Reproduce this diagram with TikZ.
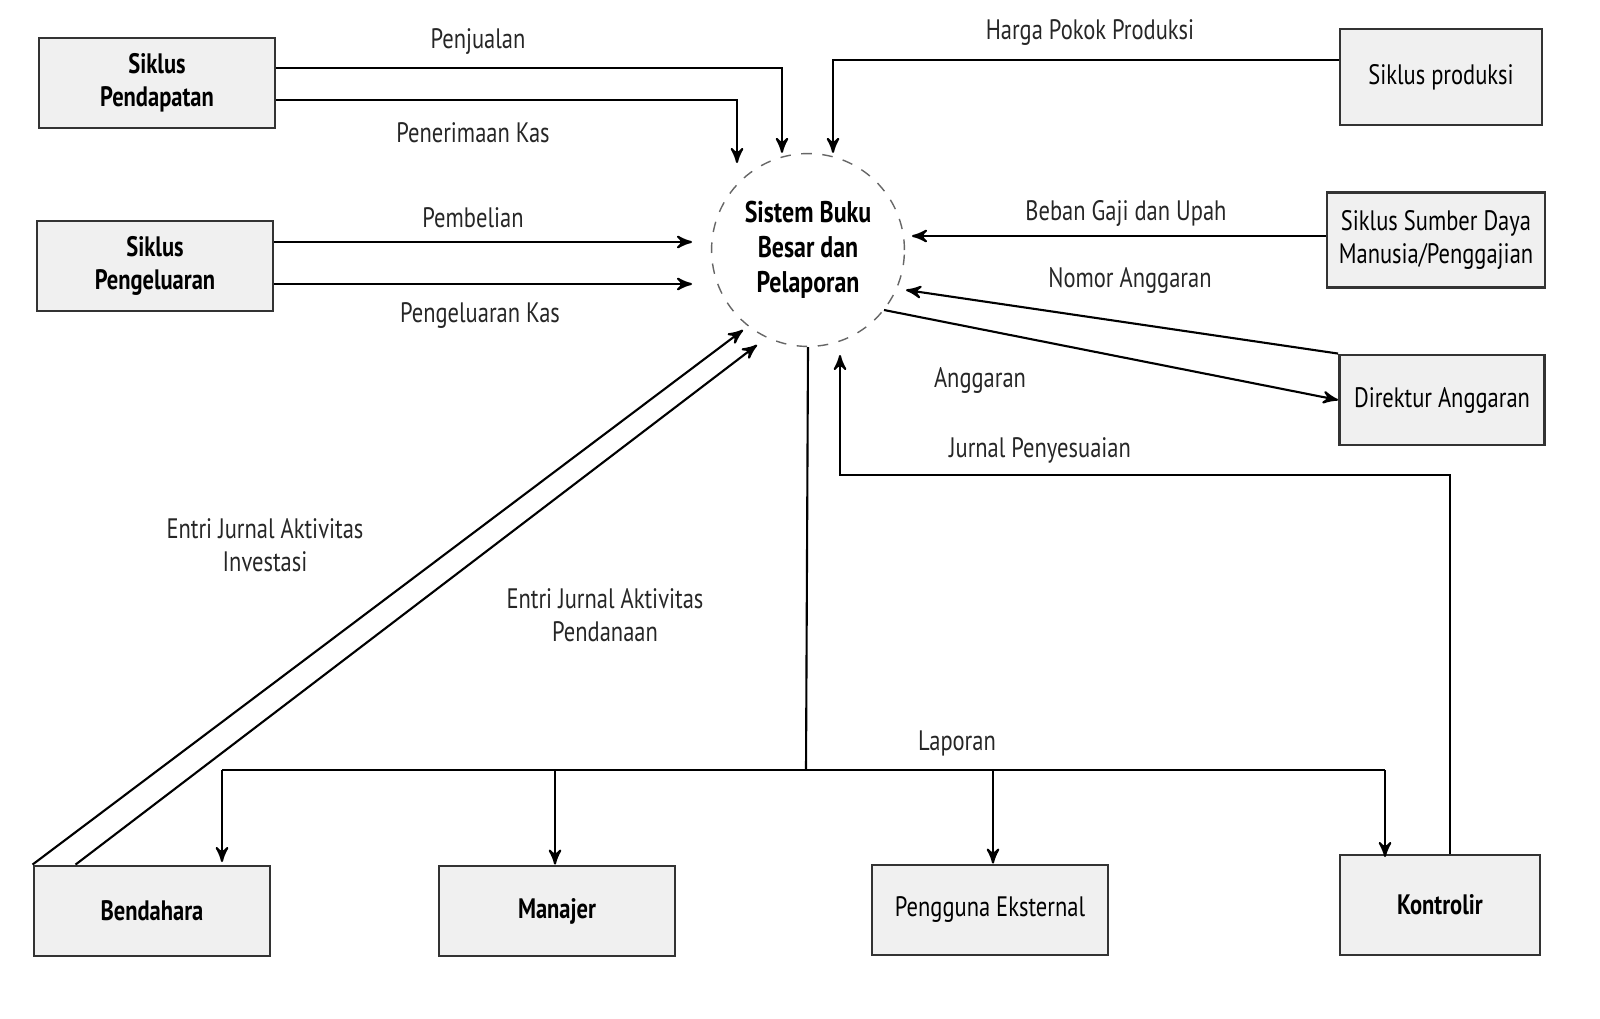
\documentclass[tikz,border=0pt]{standalone}
\usepackage{fontspec}
\setmainfont{PT Sans}[FakeStretch=0.8]
\usetikzlibrary{arrows,calc}
\begin{document}
\begin{tikzpicture}[->, >=stealth', semithick, x=0.01cm, y=-0.01cm, font=\fontsize{8}{9.5}\selectfont]
    \tikzstyle{ent}=[draw=black!80,fill=gray!12,thick,align=center,font=\fontsize{8}{9.5}\selectfont\bfseries,minimum width=2.36cm,minimum height=0.9cm]
    \tikzstyle{lbl}=[align=center,text=black!85]
    \useasboundingbox (0,0) rectangle (1600,1018);
    \node[draw=black!60,dashed,thin,circle,minimum size=1.9cm,align=center,font=\fontsize{8.5}{10}\selectfont\bfseries] (gl) at (808,250) {Sistem Buku\\Besar dan\\Pelaporan};
    \node[ent] (pend) at (157,83)   {Siklus\\Pendapatan};
    \node[ent] (peng) at (155,266)  {Siklus\\Pengeluaran};
    \node[ent,minimum width=2.02cm,minimum height=0.96cm,font=\fontsize{8}{9.5}\selectfont] (prod) at (1441,77) {Siklus produksi};
    \node[ent,minimum width=2.18cm,minimum height=0.95cm,font=\fontsize{8}{9.5}\selectfont] (sdm) at (1436,240) {Siklus Sumber Daya\\Manusia/Penggajian};
    \node[ent,minimum width=2.05cm,font=\fontsize{8}{9.5}\selectfont] (dir) at (1442,400) {Direktur Anggaran};
    \node[ent] (bend) at (152,911)  {Bendahara};
    \node[ent] (man) at (557,911)   {Manajer};
    \node[ent,font=\fontsize{8}{9.5}\selectfont] (ext) at (990,910) {Pengguna Eksternal};
    \node[ent,minimum width=2cm,minimum height=1cm] (kon) at (1440,905) {Kontrolir};
    % arus masuk
    \draw (pend.east |- 0,68) -| ([xshift=-0.26cm]gl.north);
    \draw (pend.east |- 0,100) -| (737,163);
    \draw (prod.west |- 0,60) -| ([xshift=0.25cm]gl.north);
    \draw (peng.east |- 0,242) -- (692,242);
    \draw (peng.east |- 0,284) -- (692,284);
    \draw (sdm.west |- 0,236) -- (912,236);
    \draw (dir.north west) -- (906,290);
    \draw (884,310) -- (dir.west);
    \draw (kon.north -| 1450,0) |- (840,475) -- (840,355);
    \draw (bend.north west) -- (743,330);
    \draw ([xshift=0.43cm]bend.north west) -- (757,345);
    % laporan
    \draw[-] (gl.south) -- (806,770) coordinate (lap);
    \draw[-] (222,770) -- (1385,770);
    \draw (222,770) -- (222,862);
    \draw (555,770) -- (man.north -| 555,0);
    \draw (993,770) -- (ext.north -| 993,0);
    \draw (1385,770) -- (1385,857);
    % label
    \node[lbl] at (478,42) {Penjualan};
    \node[lbl] at (473,133) {Penerimaan Kas};
    \node[lbl] at (1090,33) {Harga Pokok Produksi};
    \node[lbl] at (473,218) {Pembelian};
    \node[lbl] at (480,316) {Pengeluaran Kas};
    \node[lbl] at (1126,213) {Beban Gaji dan Upah};
    \node[lbl] at (1130,280) {Nomor Anggaran};
    \node[lbl] at (980,380) {Anggaran};
    \node[lbl] at (1040,450) {Jurnal Penyesuaian};
    \node[lbl] at (265,545) {Entri Jurnal Aktivitas\\Investasi};
    \node[lbl] at (605,615) {Entri Jurnal Aktivitas\\Pendanaan};
    \node[lbl] at (957,743) {Laporan};
\end{tikzpicture}
\end{document}
